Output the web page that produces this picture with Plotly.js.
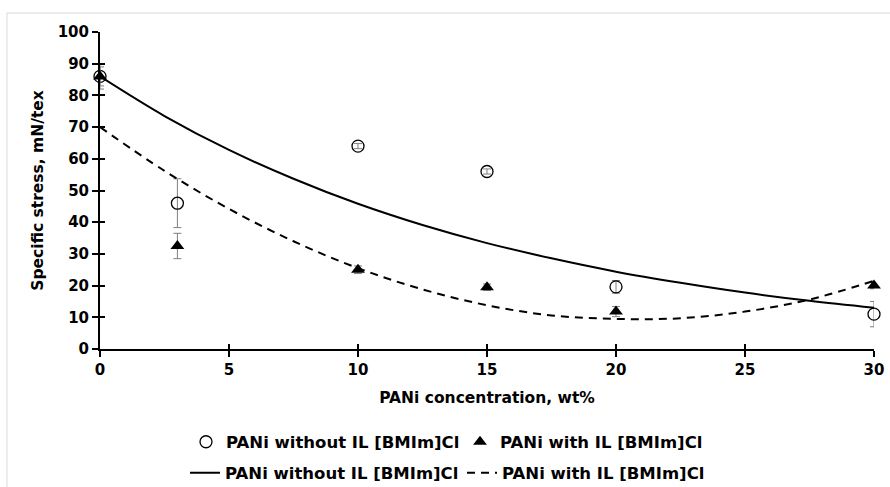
<!DOCTYPE html>
<html>
<head>
<meta charset="utf-8">
<script src="https://cdn.plot.ly/plotly-3.0.1.min.js"></script>
<style>html,body{margin:0;padding:0;background:#fff}#chart{width:890px;height:487px}</style>
</head>
<body>
<div id="chart"></div>
<script>
// Measured data
const concentration = [0, 3, 10, 15, 20, 30];
const withoutIL = [86, 46, 64, 56, 19.6, 11];
const withoutILErr = [4, 7.7, 0.8, 0.8, 2, 4];
const withIL = [86, 32.5, 25, 19.5, 11.8, 20];
const withILErr = [3, 4, 1.2, 1, 1.6, 1];

// Trendlines
const trendX = [0, 2.5, 5, 7.5, 10, 12.5, 15, 17.5, 20, 22.5, 25, 27.5, 30];
const trendWithout = [86, 73.5, 62.8, 53.7, 45.8, 39.1, 33.4, 28.6, 24.4, 20.9, 17.8, 15.2, 13.0];
const trendWith = [70, 56.2, 44.2, 34.0, 25.5, 18.8, 13.8, 10.6, 9.5, 9.7, 11.8, 15.6, 21.5];

const labelWithout = 'PANi without IL [BMIm]Cl';
const labelWith = 'PANi with IL [BMIm]Cl';

const FAMILY = 'DejaVu Sans, Verdana, sans-serif';
const font = {family: FAMILY, size: 15, color: '#000', weight: 'bold'};
const titleFont = {family: FAMILY, size: 15.5, color: '#000', weight: 'bold'};
const legendFont = {family: FAMILY, size: 16.5, color: '#000', weight: 'bold'};
const errColor = '#7f7f7f';

const traces = [
  {x: concentration, y: withoutIL, mode: 'markers', name: labelWithout, legend: 'legend', cliponaxis: false,
   marker: {symbol: 'circle-open', size: 12, color: '#000', line: {width: 1.3, color: '#000'}},
   error_y: {type: 'data', array: withoutILErr, visible: true, color: errColor, thickness: 1, width: 4}},
  {x: concentration, y: withIL, mode: 'markers', name: labelWith, legend: 'legend2', cliponaxis: false,
   marker: {symbol: 'triangle-up', size: 12, color: '#000'},
   error_y: {type: 'data', array: withILErr, visible: true, color: errColor, thickness: 1, width: 4}},
  {x: trendX, y: trendWithout, mode: 'lines', name: labelWithout, legend: 'legend3',
   line: {color: '#000', width: 2, shape: 'spline'}, hoverinfo: 'skip', cliponaxis: false},
  {x: trendX, y: trendWith, mode: 'lines', name: labelWith, legend: 'legend4',
   line: {color: '#000', width: 2, dash: '8px,6px', shape: 'spline'}, hoverinfo: 'skip', cliponaxis: false},
  {x: [0], y: [0], xaxis: 'x2', yaxis: 'y2', mode: 'markers', marker: {opacity: 0},
   showlegend: false, hoverinfo: 'skip'}
];

const axisCommon = {
  showgrid: false, zeroline: false, showline: true, linecolor: '#000', linewidth: 2,
  ticks: 'outside', ticklen: 6, tickwidth: 2, tickcolor: '#000',
  tickfont: font, automargin: false
};

function leg(px, py) {
  return {orientation: 'h', xref: 'container', yref: 'container', x: px / 890, xanchor: 'left',
    y: 1 - py / 487, yanchor: 'middle', font: legendFont, bgcolor: 'rgba(0,0,0,0)', borderwidth: 0};
}

const layout = {
  width: 890, height: 487,
  margin: {l: 100, r: 16, t: 32, b: 138},
  paper_bgcolor: '#fff', plot_bgcolor: '#fff',
  font: font,
  showlegend: true,
  xaxis: Object.assign({}, axisCommon, {
    range: [0, 30], dtick: 5, tick0: 0,
    title: {text: 'PANi concentration, wt%', font: titleFont, standoff: 14}
  }),
  yaxis: Object.assign({}, axisCommon, {
    range: [0, 100], dtick: 10, tick0: 0,
    title: {text: 'Specific stress, mN/tex', font: titleFont, standoff: 10}
  }),
  xaxis2: {overlaying: 'x', range: [0, 30], dtick: 5, tick0: 0, showgrid: false, zeroline: false,
    showline: false, ticks: 'inside', ticklen: 5, tickwidth: 2, tickcolor: '#000', showticklabels: false,
    anchor: 'y2', side: 'bottom'},
  yaxis2: {overlaying: 'y', range: [0, 100], dtick: 10, tick0: 0, showgrid: false, zeroline: false,
    showline: false, ticks: 'inside', ticklen: 5, tickwidth: 2, tickcolor: '#000', showticklabels: false,
    anchor: 'x2', side: 'left'},
  legend: leg(186, 442),
  legend2: leg(460, 442),
  legend3: leg(185, 473),
  legend4: leg(462, 473),
  shapes: [
    {type: 'rect', xref: 'paper', yref: 'paper', x0: -0.1202, x1: 1.2, y0: -1, y1: 1.06,
     line: {color: '#d9d9d9', width: 1}, layer: 'below'}
  ]
};

Plotly.newPlot('chart', traces, layout, {displayModeBar: false, staticPlot: true});
</script>
</body>
</html>
